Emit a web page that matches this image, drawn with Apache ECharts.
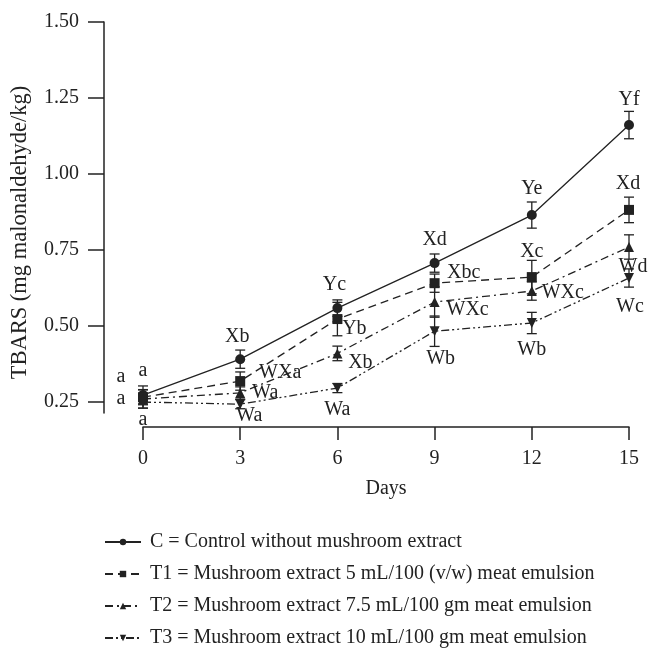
<!DOCTYPE html>
<html>
<head>
<meta charset="utf-8">
<script src="https://cdn.jsdelivr.net/npm/echarts@6/dist/echarts.min.js"></script>
<style>
  html, body { margin: 0; padding: 0; background: #fff; }
  #main { width: 648px; height: 648px; }
</style>
</head>
<body>
<div id="main"></div>
<script>
;(function() {
    // storage days
    var days = [0, 3, 6, 9, 12, 15];
    var yTicks = [0.25, 0.5, 0.75, 1.0, 1.25, 1.5];

    // TBARS means and error (+/-)
    var cVals  = [0.273, 0.391, 0.559, 0.707, 0.865, 1.161];
    var cErr   = [0.03, 0.03, 0.027, 0.03, 0.043, 0.045];
    var t1Vals = [0.266, 0.319, 0.523, 0.641, 0.661, 0.882];
    var t1Err  = [0.025, 0.03, 0.055, 0.03, 0.055, 0.042];
    var t2Vals = [0.26, 0.28, 0.41, 0.579, 0.615, 0.76];
    var t2Err  = [0.03, 0.02, 0.024, 0.05, 0.03, 0.04];
    var t3Vals = [0.25, 0.243, 0.296, 0.483, 0.51, 0.658];
    var t3Err  = [0.02, 0.015, 0.015, 0.05, 0.035, 0.03];

    // significance letters
    var cLetters  = ['a', 'Xb', 'Yc', 'Xd', 'Ye', 'Yf'];
    var t1Letters = ['a', 'WXa', 'Yb', 'Xbc', 'Xc', 'Xd'];
    var t2Letters = ['a', 'Wa', 'Xb', 'WXc', 'WXc', 'Wd'];
    var t3Letters = ['a', 'Wa', 'Wa', 'Wb', 'Wb', 'Wc'];

    var names = [
        'C = Control without mushroom extract',
        'T1 = Mushroom extract 5 mL/100 (v/w) meat emulsion',
        'T2 = Mushroom extract 7.5 mL/100 gm meat emulsion',
        'T3 = Mushroom extract 10 mL/100 gm meat emulsion'
    ];

    // label offsets (px) from each point
    var cOff  = [[0, -24], [-3, -22], [-3, -23], [0, -23], [0, -26], [0, -25]];
    var t1Off = [[-22, -20], [40, -8], [17, 10], [29, -10], [0, -25], [-1, -26]];
    var t2Off = [[-22, 0], [25, 0], [23, 9], [33, 8], [31, 2], [4, 20]];
    var t3Off = [[0, 18], [9, 12], [0, 22], [6, 28], [0, 27], [1, 29]];

    var ink = '#222';
    var font = 'Liberation Serif';

    function lineData(vals, letters, offs) {
        return days.map(function(d, i) {
            return {
                value: [d, vals[i]],
                label: { show: true, formatter: letters[i], position: 'inside', offset: offs[i] }
            };
        });
    }

    function errData(vals, err) {
        return days.map(function(d, i) {
            return [d, vals[i] - err[i], vals[i] + err[i]];
        });
    }

    function renderErr(params, api) {
        var x = api.value(0);
        var lo = api.coord([x, api.value(1)]);
        var hi = api.coord([x, api.value(2)]);
        var w = 5;
        var st = { stroke: ink, lineWidth: 1.3 };
        return {
            type: 'group',
            children: [
                { type: 'line', shape: { x1: lo[0], y1: lo[1], x2: hi[0], y2: hi[1] }, style: st },
                { type: 'line', shape: { x1: lo[0] - w, y1: lo[1], x2: lo[0] + w, y2: lo[1] }, style: st },
                { type: 'line', shape: { x1: hi[0] - w, y1: hi[1], x2: hi[0] + w, y2: hi[1] }, style: st }
            ]
        };
    }

    function lineSeries(name, vals, letters, offs, symbol, rotate, dash) {
        return {
            name: name,
            type: 'line',
            data: lineData(vals, letters, offs),
            symbol: symbol,
            symbolSize: 10,
            symbolRotate: rotate,
            showAllSymbol: true,
            itemStyle: { color: ink },
            lineStyle: { color: ink, width: 1.3, type: dash },
            label: { color: ink, fontFamily: font, fontSize: 20 },
            emphasis: { disabled: true },
            z: 3
        };
    }

    function errSeries(vals, err) {
        return {
            type: 'custom',
            renderItem: renderErr,
            data: errData(vals, err),
            encode: { x: 0, y: [1, 2] },
            silent: true,
            z: 2
        };
    }

    var myChart = echarts.init(document.getElementById('main'));
    var option = {
        animation: false,
        backgroundColor: '#fff',
        textStyle: { fontFamily: font, color: ink },
        grid: { left: 143, right: 19, top: 22, bottom: 235 },
        legend: {
            orient: 'vertical',
            left: 104,
            top: 532,
            height: 140,
            padding: 0,
            itemWidth: 36,
            itemHeight: 8,
            itemGap: 12,
            data: names,
            textStyle: { fontFamily: font, fontSize: 20, color: ink, lineHeight: 20, padding: [0, 0, 0, 4] }
        },
        xAxis: {
            type: 'value',
            min: 0,
            max: 15,
            interval: 3,
            offset: 14,
            name: 'Days',
            nameLocation: 'middle',
            nameGap: 52,
            nameTextStyle: { fontFamily: font, fontSize: 20, color: ink },
            splitLine: { show: false },
            axisLine: { show: true, onZero: false, lineStyle: { color: ink, width: 1.5 } },
            axisTick: { show: true, length: 13, lineStyle: { color: ink, width: 1.5 } },
            axisLabel: { margin: 22, fontFamily: font, fontSize: 20, color: ink }
        },
        yAxis: {
            type: 'value',
            min: 0.214,
            max: 1.5,
            offset: 39,
            name: 'TBARS (mg malonaldehyde/kg)',
            nameLocation: 'middle',
            nameGap: 72,
            nameTextStyle: { fontFamily: font, fontSize: 22.5, color: ink, padding: [0, 30, 0, 0] },
            splitLine: { show: false },
            axisLine: { show: true, onZero: false, lineStyle: { color: ink, width: 1.5 } },
            axisTick: { show: true, length: 16, customValues: yTicks, lineStyle: { color: ink, width: 1.5 } },
            axisLabel: {
                margin: 25, fontFamily: font, fontSize: 20, color: ink,
                customValues: yTicks,
                formatter: function(v) { return v.toFixed(2); }
            }
        },
        series: [
            lineSeries(names[0], cVals, cLetters, cOff, 'circle', 0, 'solid'),
            lineSeries(names[1], t1Vals, t1Letters, t1Off, 'rect', 0, [8, 5]),
            lineSeries(names[2], t2Vals, t2Letters, t2Off, 'triangle', 0, [8, 4, 2, 4]),
            lineSeries(names[3], t3Vals, t3Letters, t3Off, 'triangle', 180, [8, 3, 2, 3, 2, 3]),
            errSeries(cVals, cErr),
            errSeries(t1Vals, t1Err),
            errSeries(t2Vals, t2Err),
            errSeries(t3Vals, t3Err)
        ]
    };
    myChart.setOption(option);
})();
</script>
</body>
</html>
